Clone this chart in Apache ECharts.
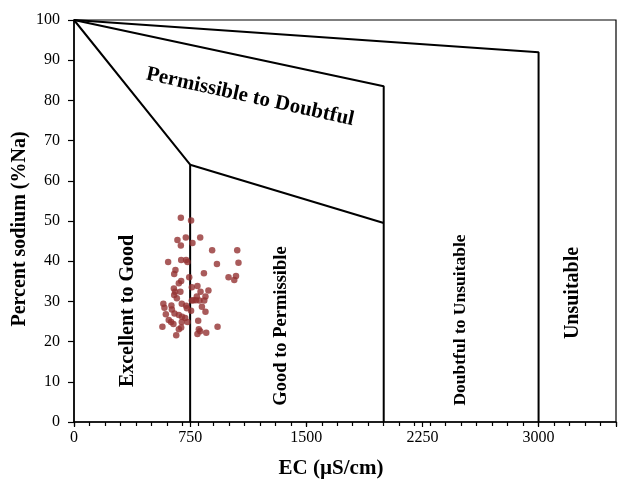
<!DOCTYPE html>
<html>
<head>
<meta charset="utf-8">
<script src="https://cdn.jsdelivr.net/npm/echarts@6/dist/echarts.min.js"></script>
<style>html,body{margin:0;padding:0;background:#fff}#c{width:619px;height:484px}</style>
</head>
<body>
<div id="c"></div>
<script>
// Sample points: [EC (µS/cm), %Na]
const ecValues = [690,756,668,722,815,690,765,892,1054,608,692,724,733,923,1062,655,647,839,744,692,677,998,1046,1035,645,687,761,797,868,647,664,817,793,849,787,810,841,577,629,696,761,584,632,724,756,849,593,649,677,698,718,612,627,642,733,802,571,692,677,806,815,927,660,797,854,653,771,826,729,696];
const naValues = [50.8,50.1,45.3,45.9,45.9,43.9,44.5,42.7,42.7,39.8,40.3,40.3,39.8,39.3,39.6,37.8,36.8,37.0,36.0,35.1,34.5,36.0,36.3,35.3,33.2,32.4,33.5,33.8,32.7,31.6,30.8,32.4,31.2,31.2,30.3,30.2,30.2,29.4,29.0,29.4,30.2,28.4,28.0,28.9,27.7,27.4,26.8,27.0,26.6,26.2,25.9,25.4,24.9,24.4,24.9,25.2,23.7,23.5,23.1,23.1,22.6,23.7,21.6,21.9,22.2,32.4,30.3,28.7,28.3,24.9];
// Classification boundary lines (Wilcox-style)
const lineExcellent = [[0,100],[750,64],[750,0]];
const lineGoodPerm = [[750,64],[2000,49.5]];
const linePermDoubt = [[0,100],[2000,83.5],[2000,0]];
const lineDoubtUns = [[0,100],[3000,92],[3000,0]];
const xTickLabels = ['0','750','1500','2250','3000'];
const yTickLabels = ['0','10','20','30','40','50','60','70','80','90','100'];

const points = ecValues.map((v,i)=>[v, naValues[i]]);
const font = 'Liberation Serif, Times New Roman, serif';
const chart = echarts.init(document.getElementById('c'));
const lineStyle = {color:'#000', width:2};
function lineSeries(d){
  return {type:'line', data:d, symbol:'none', lineStyle:lineStyle, xAxisIndex:0, yAxisIndex:0, silent:true, z:3};
}
function vText(x, y, t, size){
  return {type:'text', x:x, y:y, rotation:Math.PI/2, style:{text:t, font:'bold '+size+'px '+font, fill:'#000', align:'center', verticalAlign:'middle'}};
}
chart.setOption({
  animation:false,
  backgroundColor:'#fff',
  grid:{left:74, top:20, right:2, bottom:62, show:true, borderColor:'#000', borderWidth:1.2},
  xAxis:[{
    type:'value', min:0, max:3500, interval:750,
    axisLine:{show:true, onZero:false, lineStyle:{color:'#000', width:1.5}},
    axisTick:{show:true, length:5, lineStyle:{color:'#000', width:1.2}},
    axisLabel:{color:'#000', fontFamily:font, fontSize:16, margin:8,
      formatter:function(v){const s=String(v); return xTickLabels.indexOf(s)>=0?s:'';}},
    splitLine:{show:false}
  },{
    type:'value', min:0, max:3500, interval:100, position:'bottom',
    axisLine:{show:false}, axisLabel:{show:false}, splitLine:{show:false},
    axisTick:{show:true, length:4, lineStyle:{color:'#000', width:1.2}}
  }],
  yAxis:{
    type:'value', min:0, max:100, interval:10,
    axisLine:{show:true, lineStyle:{color:'#000', width:1.5}},
    axisTick:{show:true, length:6, lineStyle:{color:'#000', width:1.2}},
    axisLabel:{color:'#000', fontFamily:font, fontSize:16, margin:14,
      formatter:function(v){const s=String(v); return yTickLabels.indexOf(s)>=0?s:'';}},
    splitLine:{show:false}
  },
  series:[
    lineSeries(lineExcellent),
    lineSeries(lineGoodPerm),
    lineSeries(linePermDoubt),
    lineSeries(lineDoubtUns),
    {type:'scatter', data:points, symbol:'circle', symbolSize:6.5,
     itemStyle:{color:'#933232'}, z:4}
  ],
  graphic:[
    {type:'text', x:250, y:97, rotation:-12.5*Math.PI/180, style:{text:'Permissible to Doubtful', font:'bold 21px '+font, fill:'#000', align:'center', verticalAlign:'middle'}},
    vText(128, 311, 'Excellent to Good', 20),
    vText(281, 326, 'Good to Permissible', 18.5),
    vText(460, 320, 'Doubtful to Unsuitable', 17.5),
    vText(573, 293, 'Unsuitable', 20),
    vText(20, 229, 'Percent sodium (%Na)', 20),
    {type:'text', x:331, y:469, style:{text:'EC (µS/cm)', font:'bold 21px '+font, fill:'#000', align:'center', verticalAlign:'middle'}}
  ]
});
</script>
</body>
</html>
